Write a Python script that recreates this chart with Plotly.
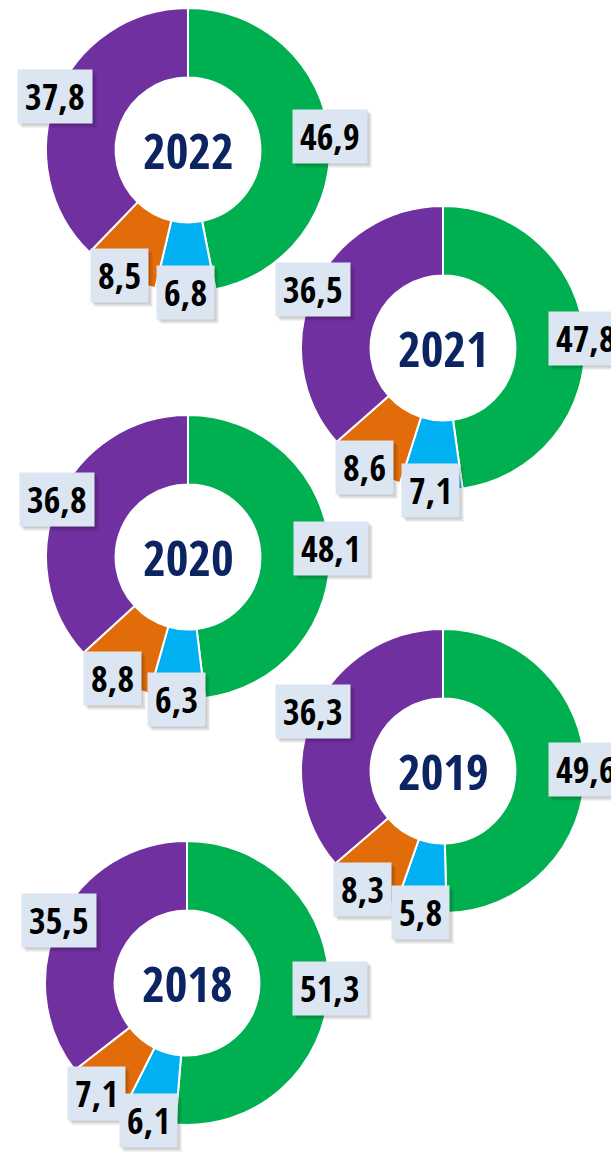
import math
import plotly.graph_objects as go

# ---- data ----
years = ["2022", "2021", "2020", "2019", "2018"]
green_vals = [46.9, 47.8, 48.1, 49.6, 51.3]
blue_vals = [6.8, 7.1, 6.3, 5.8, 6.1]
orange_vals = [8.5, 8.6, 8.8, 8.3, 7.1]
purple_vals = [37.8, 36.5, 36.8, 36.3, 35.5]
segment_names = ["A", "B", "C", "D"]

# ---- layout / style ----
W, H = 611, 1157
centers_px = [(188, 150), (443, 348), (188, 557), (443, 771), (187, 983)]
R = 142
HOLE = 0.51
LABEL_R = 143
colors = ["#00b050", "#00b0f0", "#e36c0a", "#7030a0"]
FONT = "Open Sans Condensed, Roboto Condensed, DejaVu Sans Condensed, sans-serif"

fig = go.Figure()
shadows = []
labels = []
for i, yr in enumerate(years):
    vals = [green_vals[i], blue_vals[i], orange_vals[i], purple_vals[i]]
    cx, cy = centers_px[i]
    fig.add_trace(go.Pie(
        values=vals, labels=segment_names, sort=False, direction="clockwise",
        rotation=0, hole=HOLE, textinfo="none", hoverinfo="skip",
        marker=dict(colors=colors, line=dict(color="white", width=2)),
        domain=dict(x=[(cx - R) / W, (cx + R) / W],
                    y=[1 - (cy + R) / H, 1 - (cy - R) / H]),
        showlegend=False,
    ))
    total = sum(vals)
    cum = 0
    for v in vals:
        mid = (cum + v / 2) / total * 2 * math.pi
        cum += v
        lx = cx + LABEL_R * math.sin(mid)
        ly = cy - LABEL_R * math.cos(mid)
        txt = f"<b>{v:.1f}</b>".replace(".", ",")
        common = dict(x=lx / W, y=1 - ly / H, xref="paper", yref="paper",
                      xanchor="center", yanchor="middle", showarrow=False,
                      text=txt, height=39, borderpad=7,
                      font=dict(family=FONT, size=36, color="#000000"))
        shadows.append(dict(common, bgcolor="rgba(0,0,0,0.10)", xshift=2, yshift=-2,
                            font=dict(family=FONT, size=36, color="rgba(0,0,0,0)")))
        shadows.append(dict(common, bgcolor="rgba(0,0,0,0.10)", xshift=4, yshift=-4,
                            font=dict(family=FONT, size=36, color="rgba(0,0,0,0)")))
        labels.append(dict(common, bgcolor="#dce6f2"))
    labels.append(dict(x=cx / W, y=1 - cy / H, xref="paper", yref="paper",
                       xanchor="center", yanchor="middle", showarrow=False,
                       text=f"<b>{yr}</b>",
                       font=dict(family=FONT, size=49, color="#0c2461")))

fig.update_layout(
    width=W, height=H, margin=dict(l=0, r=0, t=0, b=0),
    paper_bgcolor="white", plot_bgcolor="white",
    annotations=shadows + labels,
)
fig.write_html("out.html", config={"displayModeBar": False},
               post_script="document.body.style.margin='0';")
